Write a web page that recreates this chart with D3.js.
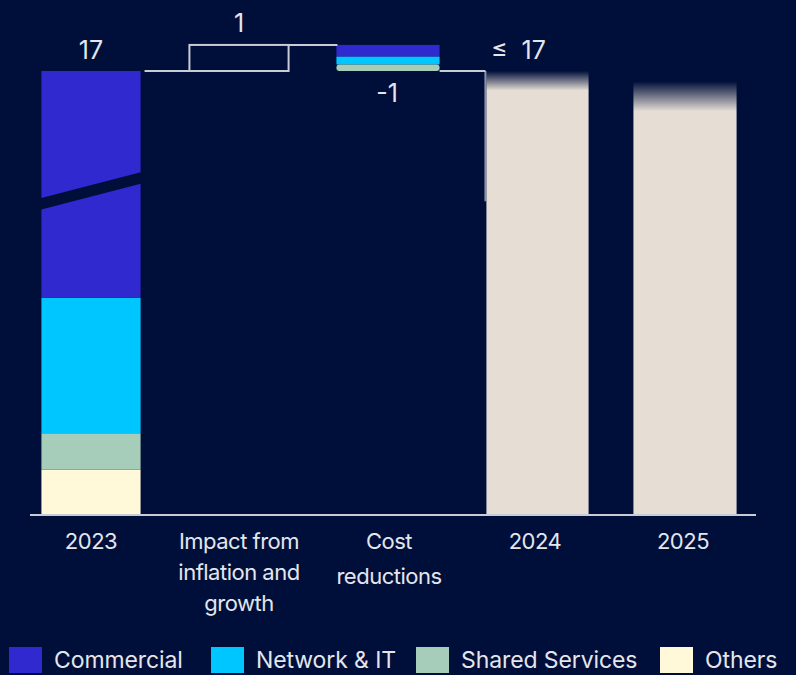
<!DOCTYPE html>
<html>
<head>
<meta charset="utf-8">
<script src="https://cdn.jsdelivr.net/npm/d3@7"></script>
<style>
  html, body { margin: 0; padding: 0; background: #000F3A; }
  svg text { font-family: Inter, "Liberation Sans", sans-serif; fill: #E4E6EC; }
</style>
</head>
<body>
<svg id="chart" width="796" height="675"></svg>
<script>
// Opex bridge, EUR bn
const categories = ["2023", "Impact from|inflation and|growth", "Cost|reductions", "2024", "2025"];
const segments = ["Commercial", "Network & IT", "Shared Services", "Others"];
const segmentColors = ["#2F29CF", "#00C6FF", "#A5CDB9", "#FFF9DA"];

// 2023 split by area (stacked from the bottom: Others, Shared, Network, Commercial)
const base2023 = [8.7, 5.2, 1.4, 1.7];
const total2023 = 17;
const inflationImpact = 1;
// cost reduction split by area
const costReduction = [0.45, 0.3, 0.25];
const costReductionTotal = -1;
const target2024 = 17;
const target2025 = 16.6;
const valueLabels = ["17", "1", "-1", "≤  17"];

const svg = d3.select("#chart");
const bg = "#000F3A";
const lineCol = "#C9CCD6";

const x = d3.scaleBand().domain(categories).range([17, 757])
  .paddingInner(0.33).paddingOuter(0.165);
const y = d3.scaleLinear().domain([0, 17]).range([514, 71]);
const bw = x.bandwidth();

// gradient for the open-ended target bars
const defs = svg.append("defs");
function fadeGrad(id, topV, fadeV) {
  const g = defs.append("linearGradient").attr("id", id)
    .attr("gradientUnits", "userSpaceOnUse")
    .attr("x1", 0).attr("x2", 0).attr("y1", y(topV)).attr("y2", y(fadeV));
  g.append("stop").attr("offset", 0).attr("stop-color", "#E6DED5").attr("stop-opacity", 0);
  g.append("stop").attr("offset", 1).attr("stop-color", "#E6DED5").attr("stop-opacity", 1);
}
fadeGrad("fade24", target2024, target2024 - 0.75);
fadeGrad("fade25", target2025, target2025 - 1.15);

// 2023 stacked bar
let acc = 0;
const stack23 = [];
for (let i = base2023.length - 1; i >= 0; i--) {
  stack23.push({ seg: i, y0: acc, y1: acc + base2023[i] });
  acc += base2023[i];
}
svg.append("g").selectAll("rect").data(stack23).join("rect")
  .attr("x", x(categories[0]))
  .attr("width", bw)
  .attr("y", d => y(d.y1))
  .attr("height", d => y(d.y0) - y(d.y1))
  .attr("fill", d => segmentColors[d.seg]);

// axis break across the 2023 bar
const brk = 12.4, tilt = 0.5, gap = 0.22;
const bx0 = x(categories[0]) - 1, bx1 = bx0 + bw + 2;
svg.append("path")
  .attr("d", `M${bx0},${y(brk - tilt + gap)} L${bx1},${y(brk + tilt + gap)} L${bx1},${y(brk + tilt - gap)} L${bx0},${y(brk - tilt - gap)} Z`)
  .attr("fill", bg);

// inflation & growth step: outlined box
const xi = x(categories[1]);
svg.append("rect")
  .attr("x", xi).attr("width", bw)
  .attr("y", y(total2023 + inflationImpact))
  .attr("height", y(total2023) - y(total2023 + inflationImpact))
  .attr("fill", "none").attr("stroke", lineCol).attr("stroke-width", 2);

// cost reduction step, stacked downward from the peak
const xc = x(categories[2]);
const peak = total2023 + inflationImpact;
let cacc = peak;
const stackC = costReduction.map((v, i) => {
  const d = { seg: i, y1: cacc, y0: cacc - v };
  cacc -= v;
  return d;
});
svg.append("g").selectAll("rect").data(stackC).join("rect")
  .attr("x", xc - 1).attr("width", bw + 4)
  .attr("y", d => y(d.y1))
  .attr("height", d => y(d.y0) - y(d.y1))
  .attr("rx", (d, i) => i === stackC.length - 1 ? 3 : 0)
  .attr("fill", d => segmentColors[d.seg]);

// 2024 / 2025 target bars
svg.append("rect").attr("x", x(categories[3]) + 1).attr("width", bw + 3)
  .attr("y", y(target2024)).attr("height", y(0) - y(target2024))
  .attr("fill", "url(#fade24)");
svg.append("rect").attr("x", x(categories[4])).attr("width", bw + 4)
  .attr("y", y(target2025)).attr("height", y(0) - y(target2025))
  .attr("fill", "url(#fade25)");

// connectors
const conn = svg.append("g").attr("stroke", lineCol).attr("stroke-width", 2).attr("fill", "none");
conn.append("line").attr("x1", x(categories[0]) + bw + 4).attr("x2", xi)
  .attr("y1", y(total2023)).attr("y2", y(total2023));
conn.append("line").attr("x1", xi + bw).attr("x2", xc)
  .attr("y1", y(peak)).attr("y2", y(peak));
const endV = peak + costReductionTotal;
conn.append("line").attr("x1", xc + bw + 3).attr("x2", x(categories[3]))
  .attr("y1", y(endV)).attr("y2", y(endV));
conn.append("line").attr("x1", x(categories[3])).attr("x2", x(categories[3]))
  .attr("y1", y(endV)).attr("y2", y(12.0)).attr("stroke-opacity", 0.7);

// baseline
svg.append("line").attr("x1", 30).attr("x2", 756)
  .attr("y1", y(0) + 1).attr("y2", y(0) + 1)
  .attr("stroke", lineCol).attr("stroke-width", 2);

// value labels
const vl = svg.append("g").attr("font-size", 25).attr("text-anchor", "middle");
vl.append("text").attr("x", x(categories[0]) + bw / 2).attr("y", y(total2023) - 12).text(valueLabels[0]);
vl.append("text").attr("x", xi + bw / 2).attr("y", y(peak) - 13).text(valueLabels[1]);
vl.append("text").attr("x", xc + bw / 2).attr("y", y(endV) + 31).text(valueLabels[2]);
vl.append("text").attr("x", x(categories[3]) + 33).attr("y", y(target2024) - 12)
  .attr("xml:space", "preserve").text(valueLabels[3]);

// category labels
const cl = svg.append("g").attr("font-size", 22).attr("text-anchor", "middle")
  .attr("letter-spacing", "-0.5");
categories.forEach((c, i) => {
  const cx = x(c) + bw / 2 + (i === 2 ? 2 : 0);
  const t = cl.append("text").attr("x", cx).attr("y", 549);
  c.split("|").forEach((ln, j) => {
    t.append("tspan").attr("x", cx)
      .attr("dy", j === 0 ? 0 : (i === 2 ? 35 : 31)).text(ln);
  });
});

// legend
const legendX = [9, 211, 416, 660];
const lg = svg.append("g");
segments.forEach((s, i) => {
  lg.append("rect").attr("x", legendX[i]).attr("y", 647).attr("width", 33).attr("height", 26)
    .attr("fill", segmentColors[i]);
  lg.append("text").attr("x", legendX[i] + 45).attr("y", 668)
    .attr("font-size", 23).attr("letter-spacing", "-0.1").attr("fill", "#F2F2F5").text(s);
});
</script>
</body>
</html>
